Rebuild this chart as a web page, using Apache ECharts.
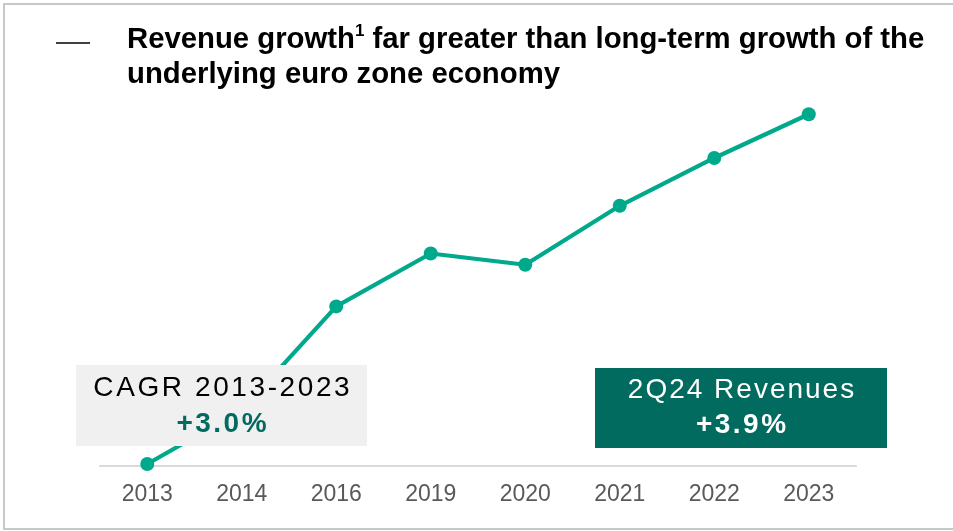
<!DOCTYPE html>
<html>
<head>
<meta charset="utf-8">
<script src="https://cdn.jsdelivr.net/npm/echarts@6/dist/echarts.min.js"></script>
<style>
html,body{margin:0;padding:0;background:#fff;}
#chart{width:953px;height:531px;}
</style>
</head>
<body>
<div id="chart"></div>
<script>
// Data (revenue index, 2013 = 100)
var categories = ['2013', '2014', '2016', '2019', '2020', '2021', '2022', '2023'];
var revenueIndex = [100, 105.3, 115.5, 120.7, 119.6, 125.4, 130.1, 134.4];
var titleLine1a = 'Revenue growth';
var titleSup = '1';
var titleLine1b = ' far greater than long-term growth of the';
var titleLine2 = 'underlying euro zone economy';
var cagrLabel = 'CAGR 2013-2023';
var cagrValue = '+3.0%';
var q2Label = '2Q24 Revenues';
var q2Value = '+3.9%';

var FONT = 'Liberation Sans, Arial, sans-serif';
var TEAL = '#00a98b';
var DARK = '#006b5e';

function spaced(str, key) {
  return str.split('').map(function (ch) { return '{' + key + '|' + ch + '}'; }).join('');
}

var chart = echarts.init(document.getElementById('chart'));
chart.setOption({
  animation: false,
  backgroundColor: '#ffffff',
  grid: { left: 100, right: 97, top: 98, bottom: 65 },
  xAxis: {
    type: 'category',
    data: categories,
    boundaryGap: true,
    axisLine: { lineStyle: { color: '#d9d9d9', width: 2 } },
    axisTick: { show: false },
    axisLabel: { color: '#595959', fontSize: 23, fontFamily: FONT, margin: 17 }
  },
  yAxis: {
    type: 'value',
    min: 99.8,
    max: 136,
    show: false,
    splitLine: { show: false }
  },
  series: [{
    type: 'line',
    data: revenueIndex,
    symbol: 'circle',
    symbolSize: 14,
    lineStyle: { color: TEAL, width: 4.2 },
    itemStyle: { color: TEAL },
    z: 2
  }],
  graphic: [
    {
      type: 'rect', z: 1, silent: true,
      shape: { x: 4, y: 4, width: 980, height: 525 },
      style: { fill: 'none', stroke: '#c8c8c8', lineWidth: 2 }
    },
    {
      type: 'line', z: 10, silent: true,
      shape: { x1: 56, y1: 43, x2: 90, y2: 43 },
      style: { stroke: '#000', lineWidth: 1.3 }
    },
    {
      type: 'text', z: 10, silent: true,
      style: {
        x: 127, y: 40,
        text: '{t|' + titleLine1a + '}{s|' + titleSup + '}{t|' + titleLine1b + '}',
        verticalAlign: 'middle', align: 'left',
        rich: {
          t: { fontSize: 29.3, fontWeight: 'bold', fontFamily: FONT, fill: '#000', lineHeight: 34 },
          s: { fontSize: 17, fontWeight: 'bold', fontFamily: FONT, fill: '#000', lineHeight: 17, verticalAlign: 'top' }
        }
      }
    },
    {
      type: 'text', z: 10, silent: true,
      style: {
        x: 127, y: 75, text: titleLine2,
        fontSize: 29.3, fontWeight: 'bold', fontFamily: FONT, fill: '#000',
        verticalAlign: 'middle', align: 'left'
      }
    },
    {
      type: 'rect', z: 20, silent: true,
      shape: { x: 76, y: 365, width: 291, height: 81 },
      style: { fill: '#f0f0f0' }
    },
    {
      type: 'text', z: 21, silent: true,
      style: {
        x: 221.5, y: 388, text: spaced(cagrLabel, 'a'),
        align: 'center', verticalAlign: 'middle',
        rich: { a: { fontSize: 28, fontFamily: FONT, fill: '#000', padding: [0, 1.3, 0, 1.3] } }
      }
    },
    {
      type: 'text', z: 21, silent: true,
      style: {
        x: 221.5, y: 424, text: spaced(cagrValue, 'b'),
        align: 'center', verticalAlign: 'middle',
        rich: { b: { fontSize: 28, fontWeight: 'bold', fontFamily: FONT, fill: DARK, padding: [0, 1.25, 0, 1.25] } }
      }
    },
    {
      type: 'rect', z: 20, silent: true,
      shape: { x: 595, y: 368, width: 292, height: 80 },
      style: { fill: DARK }
    },
    {
      type: 'text', z: 21, silent: true,
      style: {
        x: 741, y: 390.5, text: spaced(q2Label, 'c'),
        align: 'center', verticalAlign: 'middle',
        rich: { c: { fontSize: 28, fontFamily: FONT, fill: '#fff', padding: [0, 1.0, 0, 1.0] } }
      }
    },
    {
      type: 'text', z: 21, silent: true,
      style: {
        x: 741, y: 425.5, text: spaced(q2Value, 'd'),
        align: 'center', verticalAlign: 'middle',
        rich: { d: { fontSize: 28, fontWeight: 'bold', fontFamily: FONT, fill: '#fff', padding: [0, 1.25, 0, 1.25] } }
      }
    }
  ]
});
</script>
</body>
</html>
